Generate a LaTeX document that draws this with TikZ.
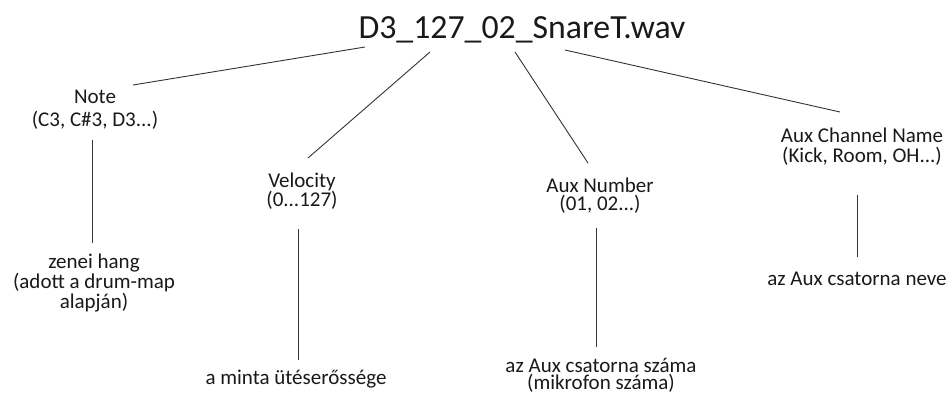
\documentclass[tikz,border=0pt]{standalone}
\usepackage{fontspec}
\setmainfont{Carlito}
\begin{document}
\begin{tikzpicture}[x=1pt,y=-1pt,
  lbl/.style={inner sep=0pt, anchor=base, align=center, text=black!90},
  small/.style={font=\fontsize{21}{#1}\selectfont},
  conn/.style={draw=black!80, line width=0.9pt}]
\useasboundingbox (0,0) rectangle (951,394);
\fill[white] (0,0) rectangle (951,394);

\node[lbl, font=\fontsize{33.8}{40}\selectfont] (title) at (522,38) {D3\_127\_02\_SnareT.wav};

\node[lbl, small=23] (note) at (95,126) {Note\\(C3, C\#3, D3...)};
\node[lbl, small=19] (vel) at (302,206) {Velocity\\(0...127)};
\node[lbl, small=18.5] (auxnum) at (600,210.5) {Aux Number\\(01, 02...)};
\node[lbl, small=20] (auxch) at (862,162) {Aux Channel Name\\(Kick, Room, OH...)};

\node[lbl, small=20] (zenei) at (94,308) {zenei hang\\(adott a drum-map\\alapján)};
\node[lbl, small=20] (minta) at (296,384) {a minta ütéserőssége};
\node[lbl, small=17.5] (szama) at (601,389.5) {az Aux csatorna száma\\(mikrofon száma)};
\node[lbl, small=20] (neve) at (857,285) {az Aux csatorna neve};

\draw[conn] ([shift={(-157,9)}]title.base) -- ([shift={(38,-41)}]note.base);
\draw[conn] ([shift={(-92,14)}]title.base) -- ([shift={(6,-48)}]vel.base);
\draw[conn] ([shift={(-7,14)}]title.base) -- ([shift={(-12,-47.5)}]auxnum.base);
\draw[conn] ([shift={(43,12)}]title.base) -- ([shift={(-22,-50)}]auxch.base);

\draw[conn] ([shift={(-3,14)}]note.base) -- ([shift={(-2,-65)}]zenei.base);
\draw[conn] ([shift={(-4,23)}]vel.base) -- ([shift={(2,-24)}]minta.base);
\draw[conn] ([shift={(-4,17.5)}]auxnum.base) -- ([shift={(-5,-42.5)}]szama.base);
\draw[conn] ([shift={(-5,33)}]auxch.base) -- ([shift={(0,-28)}]neve.base);
\end{tikzpicture}
\end{document}
